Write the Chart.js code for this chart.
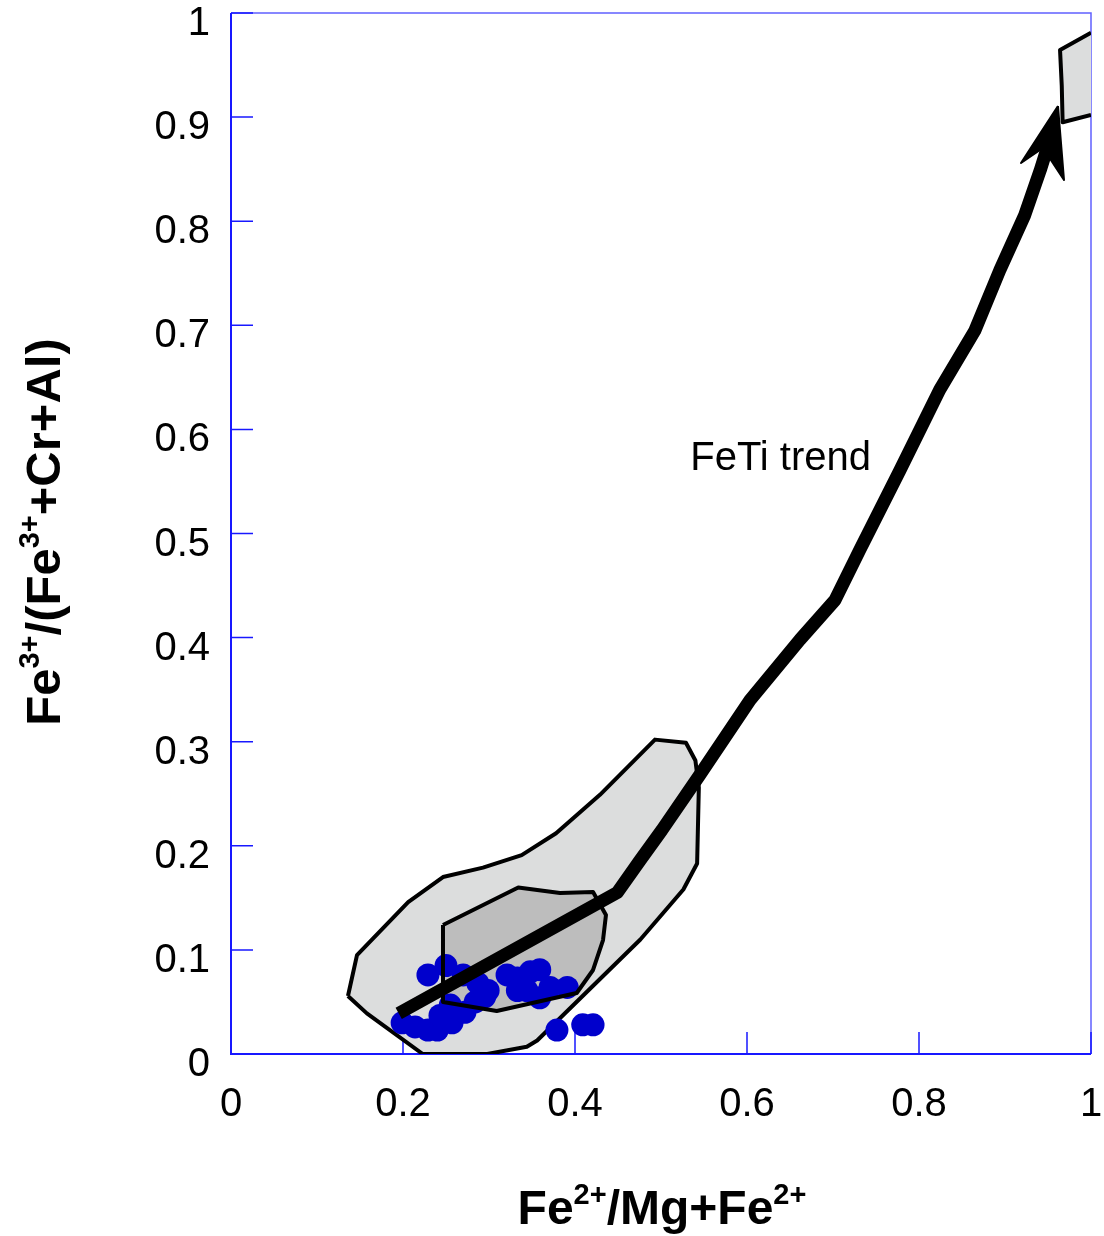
<!DOCTYPE html>
<html>
<head>
<meta charset="utf-8">
<script src="https://cdn.jsdelivr.net/npm/chart.js@4.4.1/dist/chart.umd.min.js"></script>
<style>
html, body { margin: 0; padding: 0; background: #fff; }
</style>
</head>
<body>
<canvas id="chart" width="1104" height="1236"></canvas>
<script>
// Tick positions on both axes
const xTicks = [0, 0.2, 0.4, 0.6, 0.8, 1];
const yTicks = [0, 0.1, 0.2, 0.3, 0.4, 0.5, 0.6, 0.7, 0.8, 0.9, 1];

// Measured spinel compositions: Fe2+/(Mg+Fe2+) and Fe3+/(Fe3+ + Cr + Al)
const sampleX = [0.199, 0.214, 0.229, 0.240, 0.257, 0.272, 0.284, 0.229, 0.250, 0.270, 0.287, 0.299, 0.295,
                 0.321, 0.333, 0.348, 0.359, 0.333, 0.344, 0.359, 0.371, 0.391, 0.379, 0.409, 0.421, 0.255, 0.243];
const sampleY = [0.030, 0.026, 0.023, 0.023, 0.030, 0.040, 0.050, 0.076, 0.085, 0.076, 0.068, 0.061, 0.055,
                 0.076, 0.073, 0.079, 0.081, 0.061, 0.061, 0.054, 0.064, 0.064, 0.023, 0.028, 0.028, 0.047, 0.037];

// Outer field (light grey)
const outerX = [0.136, 0.1465, 0.206, 0.2465, 0.293, 0.338, 0.378, 0.429, 0.493, 0.529, 0.540, 0.544, 0.542,
                0.526, 0.476, 0.356, 0.344, 0.298, 0.223, 0.158, 0.136];
const outerY = [0.0557, 0.095, 0.146, 0.170, 0.179, 0.191, 0.212, 0.249, 0.302, 0.299, 0.282, 0.256, 0.183,
                0.158, 0.110, 0.013, 0.007, 0.0, 0.0, 0.039, 0.0557];

// Inner field (darker grey)
const innerX = [0.2465, 0.334, 0.3826, 0.421, 0.436, 0.4326, 0.421, 0.402, 0.309, 0.2465, 0.2465];
const innerY = [0.124, 0.160, 0.1547, 0.1556, 0.1335, 0.1095, 0.0807, 0.0586, 0.0413, 0.050, 0.124];

// FeTi trend path and its arrow head
const trendX = [0.195, 0.449, 0.4756, 0.501, 0.545, 0.6035, 0.6616, 0.7023, 0.731, 0.778, 0.824, 0.865, 0.894, 0.923, 0.941, 0.952];
const trendY = [0.039, 0.155, 0.186, 0.215, 0.268, 0.340, 0.398, 0.436, 0.484, 0.561, 0.638, 0.695, 0.753, 0.806, 0.849, 0.878];
const headX = [0.9616, 0.9186, 0.9442, 0.9686, 0.9616];
const headY = [0.9107, 0.8559, 0.8704, 0.8396, 0.9107];

// Fe-Ti oxide corner field
const cornerX = [1.0, 0.964, 0.966, 0.967, 1.0];
const cornerY = [0.981, 0.9645, 0.930, 0.895, 0.902];

const toPts = (xs, ys) => xs.map((v, i) => ({ x: v, y: ys[i] }));
const FONT = "'Liberation Sans', Arial, sans-serif";

// Fills the closed shape through a dataset's points before the library strokes it
const polyFill = {
    id: 'polyFill',
    beforeDatasetDraw(chart, args) {
        const ds = chart.data.datasets[args.index];
        if (!ds.polyFill) return;
        const a = chart.chartArea;
        const ctx = chart.ctx;
        ctx.save();
        ctx.beginPath();
        ctx.rect(a.left, a.top, a.right - a.left, a.bottom - a.top);
        ctx.clip();
        ctx.beginPath();
        args.meta.data.forEach((p, i) => i ? ctx.lineTo(p.x, p.y) : ctx.moveTo(p.x, p.y));
        ctx.closePath();
        ctx.fillStyle = ds.polyFill;
        ctx.fill();
        ctx.restore();
    }
};

// Blue frame with inward ticks
const frame = {
    id: 'frame',
    beforeDatasetsDraw(chart) {
        const { ctx, chartArea: a, scales: { x, y } } = chart;
        ctx.save();
        ctx.strokeStyle = '#6060ff';
        ctx.lineWidth = 1.5;
        ctx.beginPath();
        ctx.moveTo(a.left, a.top);
        ctx.lineTo(a.right, a.top);
        ctx.lineTo(a.right, a.bottom);
        ctx.stroke();

        ctx.strokeStyle = '#1818ff';
        ctx.lineWidth = 2;
        ctx.beginPath();
        ctx.moveTo(a.left, a.top);
        ctx.lineTo(a.left, a.bottom);
        ctx.lineTo(a.right, a.bottom);
        ctx.stroke();

        ctx.lineWidth = 1.5;
        ctx.beginPath();
        xTicks.forEach(v => {
            const px = x.getPixelForValue(v);
            ctx.moveTo(px, a.bottom);
            ctx.lineTo(px, a.bottom - 22);
        });
        yTicks.forEach(v => {
            const py = y.getPixelForValue(v);
            ctx.moveTo(a.left, py);
            ctx.lineTo(a.left + 22, py);
        });
        ctx.stroke();
        ctx.restore();
    }
};

// Draws text with superscript pieces, centred horizontally on the origin
function drawRich(ctx, parts, size) {
    const supSize = Math.round(size * 0.6);
    const fontFor = sup => `bold ${sup ? supSize : size}px ${FONT}`;
    let total = 0;
    parts.forEach(([t, sup]) => { ctx.font = fontFor(sup); total += ctx.measureText(t).width; });
    let cx = -total / 2;
    ctx.textAlign = 'left';
    ctx.textBaseline = 'alphabetic';
    parts.forEach(([t, sup]) => {
        ctx.font = fontFor(sup);
        ctx.fillText(t, cx, sup ? -size * 0.42 : 0);
        cx += ctx.measureText(t).width;
    });
}

const labels = {
    id: 'labels',
    afterDraw(chart) {
        const { ctx, scales: { x, y } } = chart;
        ctx.save();
        ctx.fillStyle = '#000';

        ctx.font = `40px ${FONT}`;
        ctx.textAlign = 'left';
        ctx.textBaseline = 'middle';
        ctx.fillText('FeTi trend', x.getPixelForValue(0.534), y.getPixelForValue(0.572));

        ctx.save();
        ctx.translate(662, 1224);
        drawRich(ctx, [['Fe', 0], ['2+', 1], ['/Mg+Fe', 0], ['2+', 1]], 48);
        ctx.restore();

        ctx.save();
        ctx.translate(60, 532);
        ctx.rotate(-Math.PI / 2);
        drawRich(ctx, [['Fe', 0], ['3+', 1], ['/(Fe', 0], ['3+', 1], ['+Cr+Al)', 0]], 49);
        ctx.restore();

        ctx.restore();
    }
};

const lineDs = (pts, extra) => Object.assign({
    data: pts,
    showLine: true,
    pointRadius: 0,
    pointHoverRadius: 0,
    borderColor: '#000',
    borderWidth: 4,
    borderJoinStyle: 'round',
    tension: 0
}, extra);

const chart = new Chart(document.getElementById('chart').getContext('2d'), {
    type: 'scatter',
    data: {
        datasets: [
            lineDs(toPts(outerX, outerY), { polyFill: '#dcdddd', order: 10 }),
            lineDs(toPts(innerX, innerY), { polyFill: '#bdbdbd', showLine: false, order: 9 }),
            {
                data: toPts(sampleX, sampleY),
                pointRadius: 11.5,
                pointHoverRadius: 11.5,
                pointBackgroundColor: '#0000cc',
                pointBorderWidth: 0,
                order: 8
            },
            lineDs(toPts(innerX, innerY), { order: 7 }),
            lineDs(toPts(cornerX, cornerY), { polyFill: '#dcdddd', showLine: false, order: 6 }),
            lineDs(toPts(cornerX, cornerY), { order: 5 }),
            lineDs(toPts(trendX, trendY), { borderWidth: 13, borderCapStyle: 'butt', order: 4 }),
            lineDs(toPts(headX, headY), { polyFill: '#000', borderWidth: 2, order: 3 })
        ]
    },
    options: {
        responsive: false,
        animation: false,
        events: [],
        layout: { padding: { top: 13, right: 13, left: 0, bottom: 0 } },
        plugins: { legend: { display: false }, tooltip: { enabled: false } },
        scales: {
            x: {
                type: 'linear',
                min: 0,
                max: 1,
                grid: { display: false, drawTicks: false },
                border: { display: false },
                afterFit: s => { s.height = 182; s.paddingLeft = 0; s.paddingRight = 0; },
                afterBuildTicks: s => { s.ticks = xTicks.map(v => ({ value: v })); },
                ticks: {
                    autoSkip: false,
                    maxRotation: 0,
                    padding: 27,
                    color: '#000',
                    font: { family: FONT, size: 40 },
                    callback: v => String(+v.toFixed(1))
                }
            },
            y: {
                type: 'linear',
                min: 0,
                max: 1,
                grid: { display: false, drawTicks: false },
                border: { display: false },
                afterFit: s => { s.width = 231; s.paddingTop = 0; s.paddingBottom = 0; },
                afterBuildTicks: s => { s.ticks = yTicks.map(v => ({ value: v })); },
                ticks: {
                    autoSkip: false,
                    padding: 21,
                    labelOffset: 11,
                    color: '#000',
                    font: { family: FONT, size: 40 },
                    callback: v => String(+v.toFixed(1))
                }
            }
        }
    },
    plugins: [polyFill, frame, labels]
});
</script>
</body>
</html>
